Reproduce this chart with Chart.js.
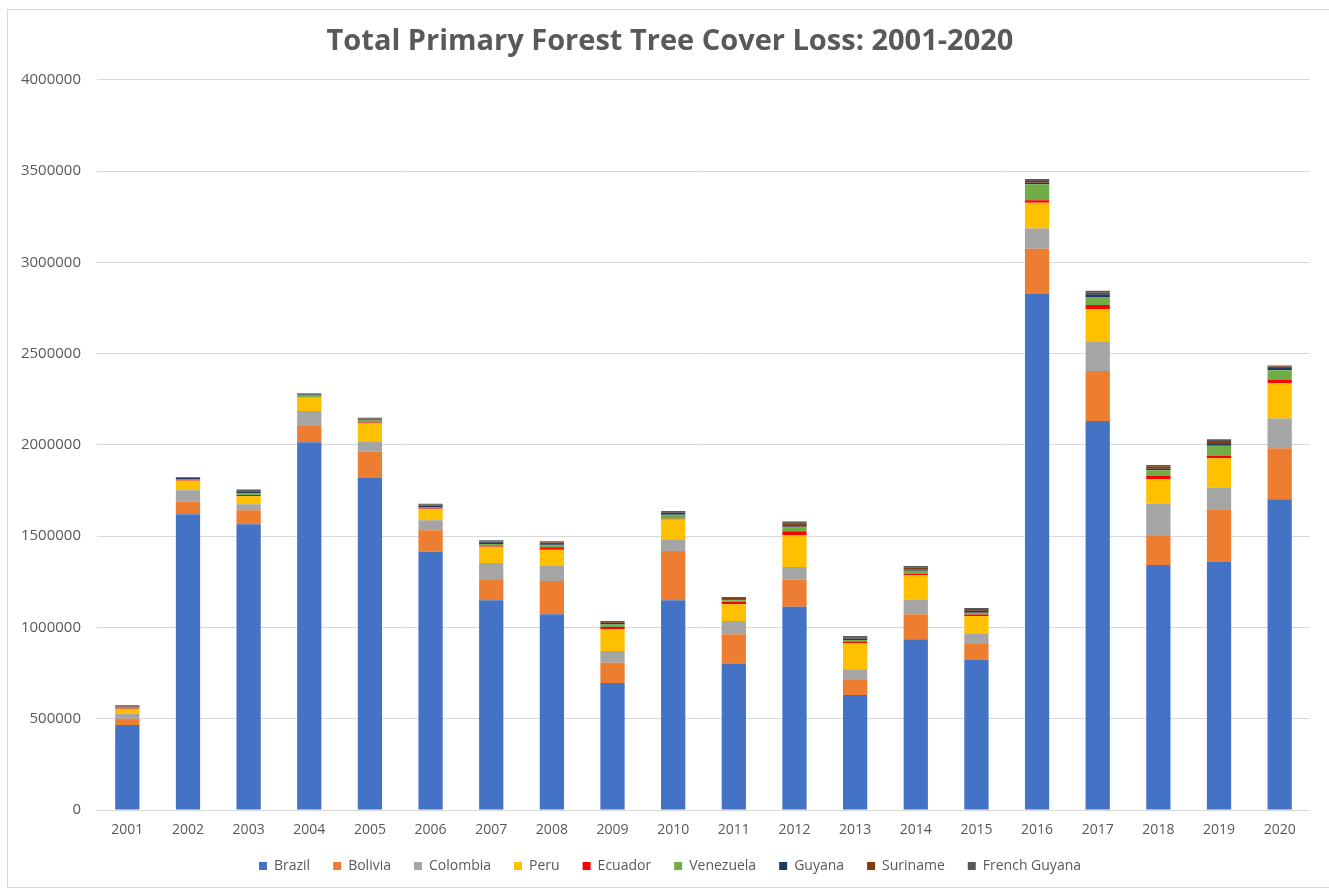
<!DOCTYPE html>
<html>
<head>
<meta charset="utf-8">
<script src="https://cdn.jsdelivr.net/npm/chart.js@4.4.0/dist/chart.umd.min.js"></script>
<style>
  html, body { margin: 0; padding: 0; background: #ffffff; }
  #wrap { position: absolute; left: 0; top: 0; width: 1329px; height: 890px; }
  #frame { position: absolute; left: 7px; top: 9px; width: 1322px; height: 879px; border: 1px solid #d9d9d9; border-right: none; box-sizing: border-box; pointer-events: none; }
  canvas { position: absolute; left: 0; top: 0; }
</style>
</head>
<body>
<div id="wrap">
  <canvas id="c" width="1329" height="890"></canvas>
  <div id="frame"></div>
</div>
<script>
const years = ["2001","2002","2003","2004","2005","2006","2007","2008","2009","2010","2011","2012","2013","2014","2015","2016","2017","2018","2019","2020"];
const brazil       = [466000,1620000,1565000,2015000,1819000,1414000,1149000,1072000,696000,1149000,802000,1114000,630000,935000,824000,2826000,2131000,1342000,1359000,1702000];
const bolivia      = [34000,69000,77000,93000,143000,118000,111000,183000,111000,270000,161000,148000,82000,137000,85000,248000,274000,159000,288000,280000];
const colombia     = [26000,63000,33000,78000,54000,55000,93000,82000,64000,64000,73000,69000,59000,80000,55000,111000,159000,177000,119000,162000];
const peru         = [27000,51000,44000,73000,101000,60000,86000,88000,119000,108000,91000,176000,142000,134000,99000,142000,179000,134000,161000,194000];
const ecuador      = [3000,3000,6000,4000,6000,5000,4000,15000,13000,5000,12000,20000,10000,8000,8000,13000,24000,18000,13000,18000];
const venezuela    = [6000,7000,10000,8000,10000,8000,14000,10000,13000,22000,10000,20000,8000,16000,10000,88000,40000,31000,55000,53000];
const guyana       = [4000,5000,8000,5000,6000,8000,10000,6000,8000,12000,6000,6000,8000,8000,10000,8000,18000,8000,10000,12000];
const suriname     = [3000,3000,5000,4000,4000,4000,4000,10000,5000,3000,6000,18000,7000,12000,10000,10000,9000,14000,16000,8000];
const frenchGuyana = [5000,3000,7000,3000,6000,6000,7000,6000,7000,5000,6000,9000,7000,7000,6000,10000,10000,7000,10000,6000];

const seriesNames  = ["Brazil","Bolivia","Colombia","Peru","Ecuador","Venezuela","Guyana","Suriname","French Guyana"];
const seriesValues = [brazil,bolivia,colombia,peru,ecuador,venezuela,guyana,suriname,frenchGuyana];
const seriesColors = ["#4472C4","#ED7D31","#A5A5A5","#FFC000","#FF0000","#70AD47","#1F3864","#843C0C","#595959"];

const FONT = "'Open Sans', 'Liberation Sans', sans-serif";
const TEXT = "#595959";

// keep legend height fixed so its horizontal item spacing does not move the plot
const legendHeightFix = {
  id: "legendHeightFix",
  afterInit(chart) {
    const lg = chart.legend;
    if (lg && !lg._fixed) {
      const orig = lg.fit;
      lg.fit = function () { orig.call(this); this.height = 53; };
      lg._fixed = true;
    }
  }
};

new Chart(document.getElementById("c"), {
  type: "bar",
  data: {
    labels: years,
    datasets: seriesNames.map((n, i) => ({
      label: n,
      data: seriesValues[i],
      backgroundColor: seriesColors[i],
      borderWidth: 0,
      categoryPercentage: 1.0,
      barPercentage: 0.4
    }))
  },
  plugins: [legendHeightFix],
  options: {
    responsive: false,
    animation: false,
    layout: { padding: { left: 30, right: 19, top: 0, bottom: 1 } },
    plugins: {
      title: {
        display: true,
        text: "Total Primary Forest Tree Cover Loss: 2001-2020",
        color: TEXT,
        font: { family: FONT, size: 29, weight: "bold" },
        padding: { top: 24, bottom: 21 }
      },
      legend: {
        position: "bottom",
        labels: {
          color: TEXT,
          font: { family: FONT, size: 14 },
          boxWidth: 8,
          boxHeight: 8,
          padding: 23
        }
      },
      tooltip: { enabled: false }
    },
    scales: {
      x: {
        stacked: true,
        grid: { display: false },
        border: { display: false },
        afterFit: (s) => { s.height = 26; },
        ticks: { color: TEXT, font: { family: FONT, size: 14 }, padding: 4, maxRotation: 0 }
      },
      y: {
        stacked: true,
        min: 0,
        max: 4000000,
        grid: { color: "#D9D9D9", lineWidth: 1, drawTicks: false },
        border: { display: false },
        afterFit: (s) => { s.width = 67; s._computeLabelArea = () => undefined; },
        ticks: {
          stepSize: 500000,
          color: TEXT,
          font: { family: FONT, size: 15 },
          padding: 16,
          callback: (v) => String(v)
        }
      }
    }
  }
});
</script>
</body>
</html>
